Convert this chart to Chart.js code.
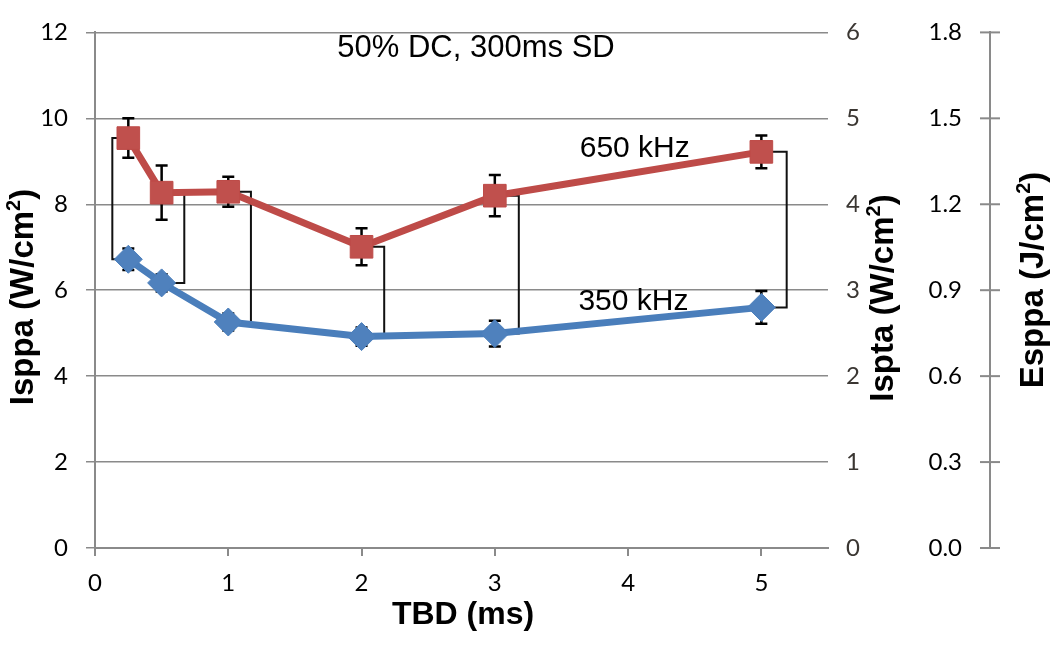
<!DOCTYPE html>
<html>
<head>
<meta charset="utf-8">
<script src="https://cdn.jsdelivr.net/npm/chart.js@4.4.1/dist/chart.umd.min.js"></script>
<style>
  html, body { margin: 0; padding: 0; background: #fff; }
  #wrap { width: 1050px; height: 647px; }
</style>
</head>
<body>
<div id="wrap"><canvas id="chart" width="1050" height="647"></canvas></div>
<script>
// TBD (ms)
const tbd = [0.25, 0.5, 1, 2, 3, 5];

// Isppa (W/cm2) for each frequency
const isppa350 = [6.72, 6.17, 5.26, 4.92, 4.99, 5.60];
const isppa650 = [9.54, 8.27, 8.29, 7.01, 8.20, 9.22];

// error bar half heights
const err350 = [0.25, 0.20, 0.20, 0.21, 0.30, 0.38];
const err650 = [0.46, 0.63, 0.35, 0.43, 0.48, 0.38];

// where the bracket joining the two series sits, per TBD
const bracketX = [0.13, 0.67, 1.17, 2.17, 3.18, 5.19];

const seriesNames = ['350 kHz', '650 kHz'];
const chartTitle = '50% DC, 300ms SD';

const tickFont = { family: 'Lato', size: 24 };
const axisGray = '#8a8a8a';

// text with a superscript part, centred on (0,0) baseline
function drawSupText(ctx, before, sup, after, size) {
    const big = 'bold ' + size + 'px "Liberation Sans", Arial, sans-serif';
    const small = 'bold ' + Math.round(size * 0.62) + 'px "Liberation Sans", Arial, sans-serif';
    ctx.font = big;
    const w1 = ctx.measureText(before).width;
    const w3 = ctx.measureText(after).width;
    ctx.font = small;
    const w2 = ctx.measureText(sup).width;
    let x = -(w1 + w2 + w3) / 2;
    ctx.textAlign = 'left';
    ctx.textBaseline = 'alphabetic';
    ctx.font = big;
    ctx.fillText(before, x, 0);
    x += w1;
    ctx.font = small;
    ctx.fillText(sup, x, -size * 0.38);
    x += w2;
    ctx.font = big;
    ctx.fillText(after, x, 0);
}

const extras = {
    id: 'extras',
    beforeDatasetsDraw(chart) {
        const ctx = chart.ctx;
        const xs = chart.scales.x;
        const ys = chart.scales.y;
        ctx.save();

        // brackets between the two series
        ctx.strokeStyle = '#111';
        ctx.lineWidth = 2;
        tbd.forEach((t, i) => {
            const px = xs.getPixelForValue(t);
            const bx = xs.getPixelForValue(bracketX[i]);
            const yTop = ys.getPixelForValue(isppa650[i]);
            const yBot = ys.getPixelForValue(isppa350[i]);
            ctx.beginPath();
            ctx.moveTo(px, yTop);
            ctx.lineTo(bx, yTop);
            ctx.lineTo(bx, yBot);
            ctx.lineTo(px, yBot);
            ctx.stroke();
        });

        // error bars
        ctx.strokeStyle = '#000';
        ctx.lineWidth = 2.5;
        const drawErr = (vals, errs) => {
            tbd.forEach((t, i) => {
                const px = xs.getPixelForValue(t);
                const hi = ys.getPixelForValue(vals[i] + errs[i]);
                const lo = ys.getPixelForValue(vals[i] - errs[i]);
                ctx.beginPath();
                ctx.moveTo(px, hi); ctx.lineTo(px, lo);
                ctx.moveTo(px - 6, hi); ctx.lineTo(px + 6, hi);
                ctx.moveTo(px - 6, lo); ctx.lineTo(px + 6, lo);
                ctx.stroke();
            });
        };
        drawErr(isppa650, err650);
        drawErr(isppa350, err350);
        ctx.restore();
    },
    afterDraw(chart) {
        const ctx = chart.ctx;
        const xs = chart.scales.x;
        const ys = chart.scales.y;
        const y3 = chart.scales.y3;
        ctx.save();

        // tick marks crossing the Esppa axis
        ctx.strokeStyle = axisGray;
        ctx.lineWidth = 2;
        y3.ticks.forEach(tk => {
            const py = y3.getPixelForValue(tk.value);
            ctx.beginPath();
            ctx.moveTo(y3.left - 10, py);
            ctx.lineTo(y3.left + 10, py);
            ctx.stroke();
        });

        ctx.fillStyle = '#000';
        ctx.textAlign = 'center';
        ctx.textBaseline = 'alphabetic';

        // title and series labels
        ctx.font = '31px "Liberation Sans", Arial, sans-serif';
        ctx.fillText(chartTitle, 476, 57);
        ctx.font = '30px "Liberation Sans", Arial, sans-serif';
        ctx.fillText(seriesNames[1], xs.getPixelForValue(4.05), ys.getPixelForValue(9.1));
        ctx.fillText(seriesNames[0], xs.getPixelForValue(4.04), ys.getPixelForValue(5.53));

        // x axis title
        ctx.font = 'bold 32px "Liberation Sans", Arial, sans-serif';
        ctx.fillText('TBD (ms)', 463, 624);

        // rotated y axis titles
        const titles = [
            ['Isppa (W/cm', '2', ')', 33, 297],
            ['Ispta (W/cm', '2', ')', 893, 298],
            ['Esppa (J/cm', '2', ')', 1043, 280]
        ];
        titles.forEach(([a, s, b, tx, ty]) => {
            ctx.save();
            ctx.translate(tx, ty);
            ctx.rotate(-Math.PI / 2);
            drawSupText(ctx, a, s, b, 33);
            ctx.restore();
        });
        ctx.restore();
    }
};

function createChart() {
    const ctx = document.getElementById('chart');
    return new Chart(ctx, {
        type: 'line',
        data: {
            datasets: [
                {
                    label: seriesNames[1],
                    data: tbd.map((t, i) => ({ x: t, y: isppa650[i] })),
                    borderColor: '#BE4B48',
                    backgroundColor: '#C0504D',
                    borderWidth: 7,
                    pointStyle: 'rect',
                    pointRadius: 16,
                    pointBorderWidth: 1,
                    pointBorderColor: '#BE4B48',
                    yAxisID: 'y'
                },
                {
                    label: seriesNames[0],
                    data: tbd.map((t, i) => ({ x: t, y: isppa350[i] })),
                    borderColor: '#4A7EBB',
                    backgroundColor: '#4F81BD',
                    borderWidth: 7,
                    pointStyle: 'rectRot',
                    pointRadius: 14,
                    pointBorderWidth: 1,
                    pointBorderColor: '#4A7EBB',
                    yAxisID: 'y'
                }
            ]
        },
        options: {
            responsive: false,
            animation: false,
            layout: { padding: { top: 21, left: 0, right: 0, bottom: 0 } },
            plugins: {
                legend: { display: false },
                tooltip: { enabled: false }
            },
            scales: {
                x: {
                    type: 'linear',
                    min: 0,
                    max: 5.5,
                    ticks: { stepSize: 1, includeBounds: false, color: '#000', font: tickFont, padding: 13 },
                    grid: { drawOnChartArea: false, tickLength: 8, color: axisGray, lineWidth: 2 },
                    border: { color: axisGray, width: 2 },
                    afterFit(s) { s.height = 99; }
                },
                y: {
                    type: 'linear',
                    position: 'left',
                    min: 0,
                    max: 12,
                    ticks: { stepSize: 2, color: '#000', font: tickFont, padding: 18 },
                    grid: { color: axisGray, lineWidth: 1.5, tickLength: 9 },
                    border: { color: axisGray, width: 2 },
                    afterFit(s) { s.width = 95; }
                },
                y2: {
                    type: 'linear',
                    position: 'right',
                    weight: 1,
                    min: 0,
                    max: 6,
                    ticks: { stepSize: 1, color: '#3a3632', font: tickFont, padding: 10 },
                    grid: { display: false },
                    border: { display: false },
                    afterFit(s) { s.width = 162; }
                },
                y3: {
                    type: 'linear',
                    position: 'right',
                    weight: 2,
                    min: 0,
                    max: 1.8,
                    ticks: {
                        stepSize: 0.3,
                        mirror: true,
                        padding: -28,
                        color: '#000',
                        font: tickFont,
                        callback: v => v.toFixed(1)
                    },
                    grid: { display: true, drawOnChartArea: false, drawTicks: false },
                    border: { display: true, color: axisGray, width: 2 },
                    afterFit(s) { s.width = 60; }
                }
            }
        },
        plugins: [extras]
    });
}

createChart();
</script>
</body>
</html>
